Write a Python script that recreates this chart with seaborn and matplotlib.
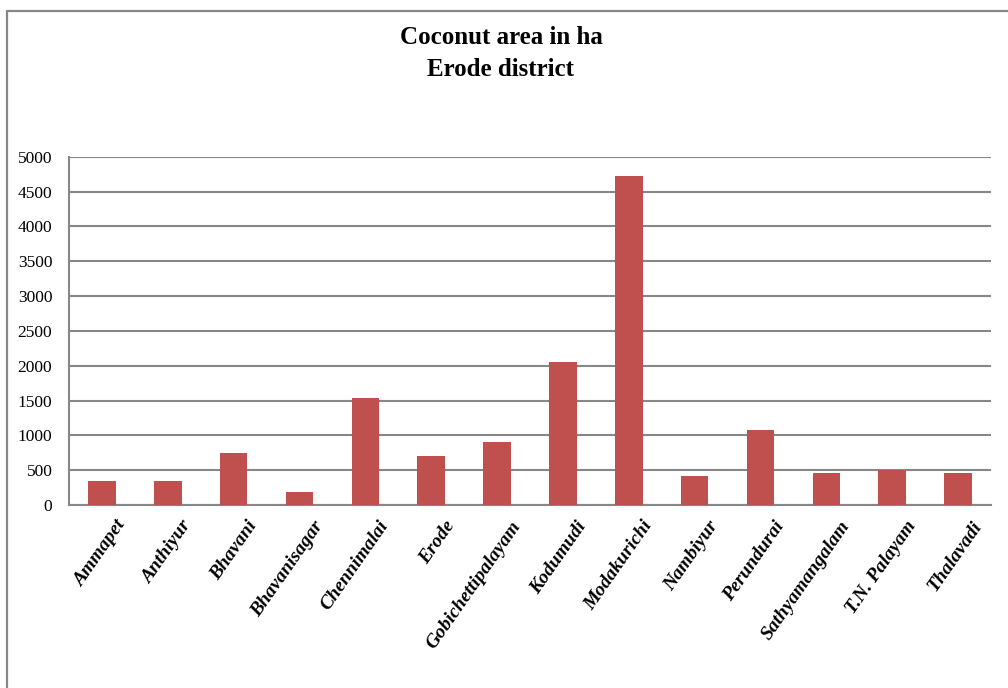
import matplotlib
matplotlib.use("Agg")
import matplotlib.pyplot as plt
import matplotlib.transforms as mtransforms
from matplotlib.lines import Line2D
import pandas as pd
import seaborn as sns

# Coconut area (ha) by block, Erode district
districts = ["Ammapet", "Anthiyur", "Bhavani", "Bhavanisagar", "Chennimalai", "Erode",
             "Gobichettipalayam", "Kodumudi", "Modakurichi", "Nambiyur", "Perundurai",
             "Sathyamangalam", "T.N. Palayam", "Thalavadi"]
area_ha = [340, 340, 750, 180, 1530, 710, 910, 2060, 4720, 420, 1070, 460, 500, 460]
y_ticks = [0, 500, 1000, 1500, 2000, 2500, 3000, 3500, 4000, 4500, 5000]
title_lines = ["Coconut area in ha", "Erode district"]

df = pd.DataFrame({"district": districts, "area": area_ha})

sns.set_theme(style="white")
plt.rcParams["font.family"] = ["Liberation Serif", "DejaVu Serif"]
plt.rcParams["text.color"] = "black"
plt.rcParams["xtick.color"] = "black"
plt.rcParams["ytick.color"] = "black"

grid_gray = "#878787"
bar_red = "#C0504D"

fig = plt.figure(figsize=(10.08, 6.88), dpi=100)
ax = fig.add_axes([69 / 1008, 1 - 505 / 688, (991 - 69) / 1008, (505 - 156.7) / 688])

sns.barplot(data=df, x="district", y="area", color=bar_red, saturation=1,
            width=0.42, linewidth=0, ax=ax, zorder=3)

ax.set_xlim(-0.5, len(districts) - 0.5)
ax.set_ylim(0, 5000)
ax.set_yticks(y_ticks)
ax.set_yticklabels([str(v) for v in y_ticks], fontsize=12.5, color="black")
ax.yaxis.grid(True, color=grid_gray, linewidth=1.5, zorder=0)
ax.set_axisbelow(True)
ax.tick_params(axis="both", length=0)
ax.tick_params(axis="y", pad=12)
ax.set_xlabel("")
ax.set_ylabel("")

for side in ["top", "right"]:
    ax.spines[side].set_visible(False)
for side in ["left", "bottom"]:
    ax.spines[side].set_color(grid_gray)
    ax.spines[side].set_linewidth(1.5)

# rotated, bold italic category labels ending just right of each bar
offset = mtransforms.ScaledTranslation(0.13, -0.08, fig.dpi_scale_trans)
ax.set_xticks(range(len(districts)))
ax.set_xticklabels(districts, rotation=55, ha="right", va="top",
                   rotation_mode="anchor", fontsize=14, fontweight="bold",
                   fontstyle="italic", color="black")
for lbl in ax.get_xticklabels():
    lbl.set_transform(lbl.get_transform() + offset)

# two-line chart title
fig.text(0.497, 1 - 37 / 688, title_lines[0], ha="center", va="center",
         fontsize=18, fontweight="bold", color="black")
fig.text(0.497, 1 - 69 / 688, title_lines[1], ha="center", va="center",
         fontsize=18, fontweight="bold", color="black")

# chart-area border along the top and left edges
fig.add_artist(Line2D([7 / 1008, 7 / 1008], [0, 1 - 11 / 688],
                      transform=fig.transFigure, color=grid_gray, linewidth=1.6))
fig.add_artist(Line2D([7 / 1008, 1], [1 - 11 / 688, 1 - 11 / 688],
                      transform=fig.transFigure, color=grid_gray, linewidth=1.6))

fig.savefig("out.png", dpi=100, facecolor="white")
